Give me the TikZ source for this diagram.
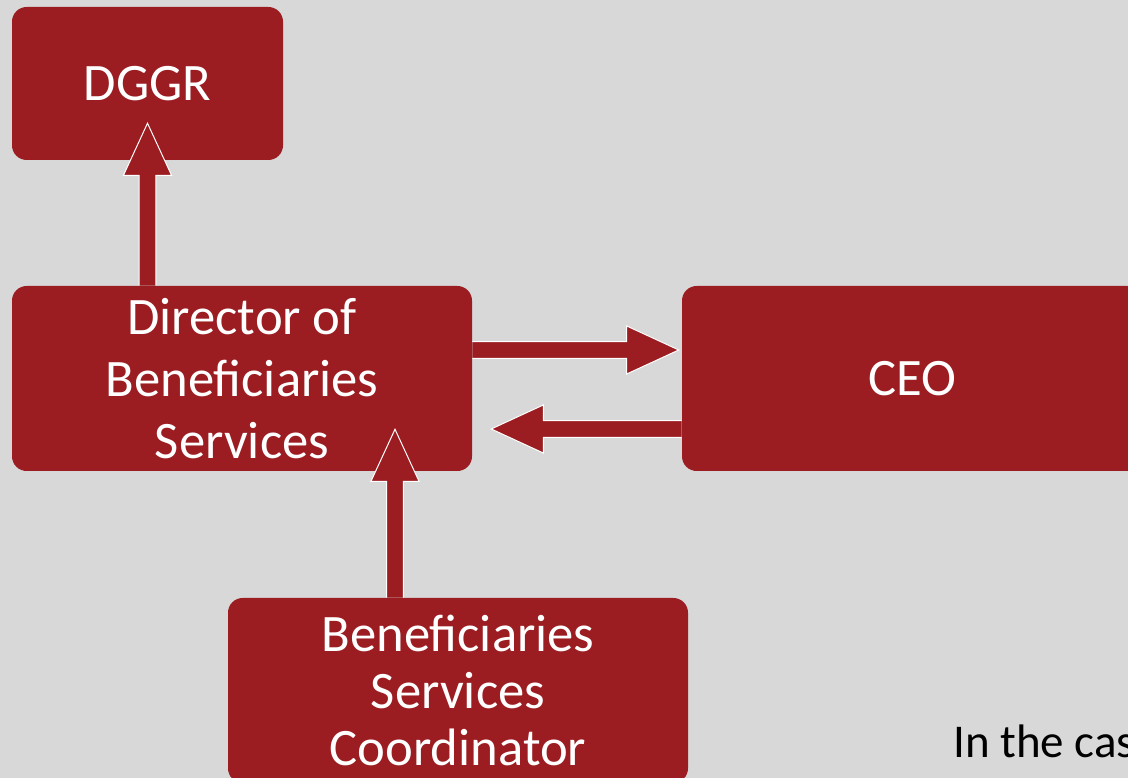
\documentclass[tikz,border=0pt]{standalone}
\usepackage{fontspec}
\setmainfont{Carlito}
\usetikzlibrary{calc}

\definecolor{boxred}{RGB}{155,28,33}
\definecolor{slidegray}{RGB}{216,216,216}

% block arrow from #1 to #2 (tip at #2)
\newcommand\blockarrow[2]{%
  \coordinate (hb) at ($(#2)!39pt!(#1)$);
  \fill[boxred] ($(#1)!6.2pt!90:(#2)$) -- ($(hb)!6.2pt!90:(#2)$) -- ($(hb)!18pt!90:(#2)$)
    -- (#2) -- ($(hb)!18pt!-90:(#2)$) -- ($(hb)!6.2pt!-90:(#2)$) -- ($(#1)!6.2pt!-90:(#2)$) -- cycle;
  \draw[white, line width=.75pt, line join=miter] ($(#1)!6.2pt!90:(#2)$) -- ($(hb)!6.2pt!90:(#2)$) -- ($(hb)!18pt!90:(#2)$)
    -- (#2) -- ($(hb)!18pt!-90:(#2)$) -- ($(hb)!6.2pt!-90:(#2)$) -- ($(#1)!6.2pt!-90:(#2)$);
}

\begin{document}
\begin{tikzpicture}[x=.75pt, y=.75pt]
\tikzstyle{every node}=[inner sep=0pt, align=center]
\tikzstyle{box}=[rectangle, rounded corners=11pt, fill=boxred, text=white,
  minimum width=345pt, minimum height=138.75pt, font=\fontsize{39.5}{46.5}\selectfont]
\useasboundingbox (0,0) rectangle (1128,778);
\clip (0,0) rectangle (1128,778);
\fill[slidegray] (0,0) rectangle (1128,778);
\draw (147.5,694.5) node (dggr) [box, minimum width=203.25pt, minimum height=114.75pt] {DGGR};
\draw (242,399.5) node (dir) [box] {Director of\\Beneficiaries\\Services};
\draw (912,399.5) node (ceo) [box] {CEO};
\draw (458,87.5) node (coord) [box, font=\fontsize{39.5}{43}\selectfont] {Beneficiaries\\Services\\Coordinator};
\draw (953,20) node (note) [anchor=base west, text=black, font=\fontsize{35.25}{42}\selectfont] {In the cas};
\coordinate (s1) at (dir.north -| dggr.south);
\coordinate (t1) at ($(dggr.south)+(0,37)$);
\coordinate (s2) at ($(dir.east)+(0,28.5)$);
\coordinate (t2) at ($(ceo.west |- s2)+(-3,0)$);
\coordinate (s3) at ($(ceo.west)+(0,-50.5)$);
\coordinate (t3) at ($(dir.east |- s3)+(19,0)$);
\coordinate (s4) at ($(coord.north)+(-63,0)$);
\coordinate (t4) at ($(dir.south -| s4)+(0,42)$);
\blockarrow{s1}{t1}
\blockarrow{s2}{t2}
\blockarrow{s3}{t3}
\blockarrow{s4}{t4}
\end{tikzpicture}
\end{document}
